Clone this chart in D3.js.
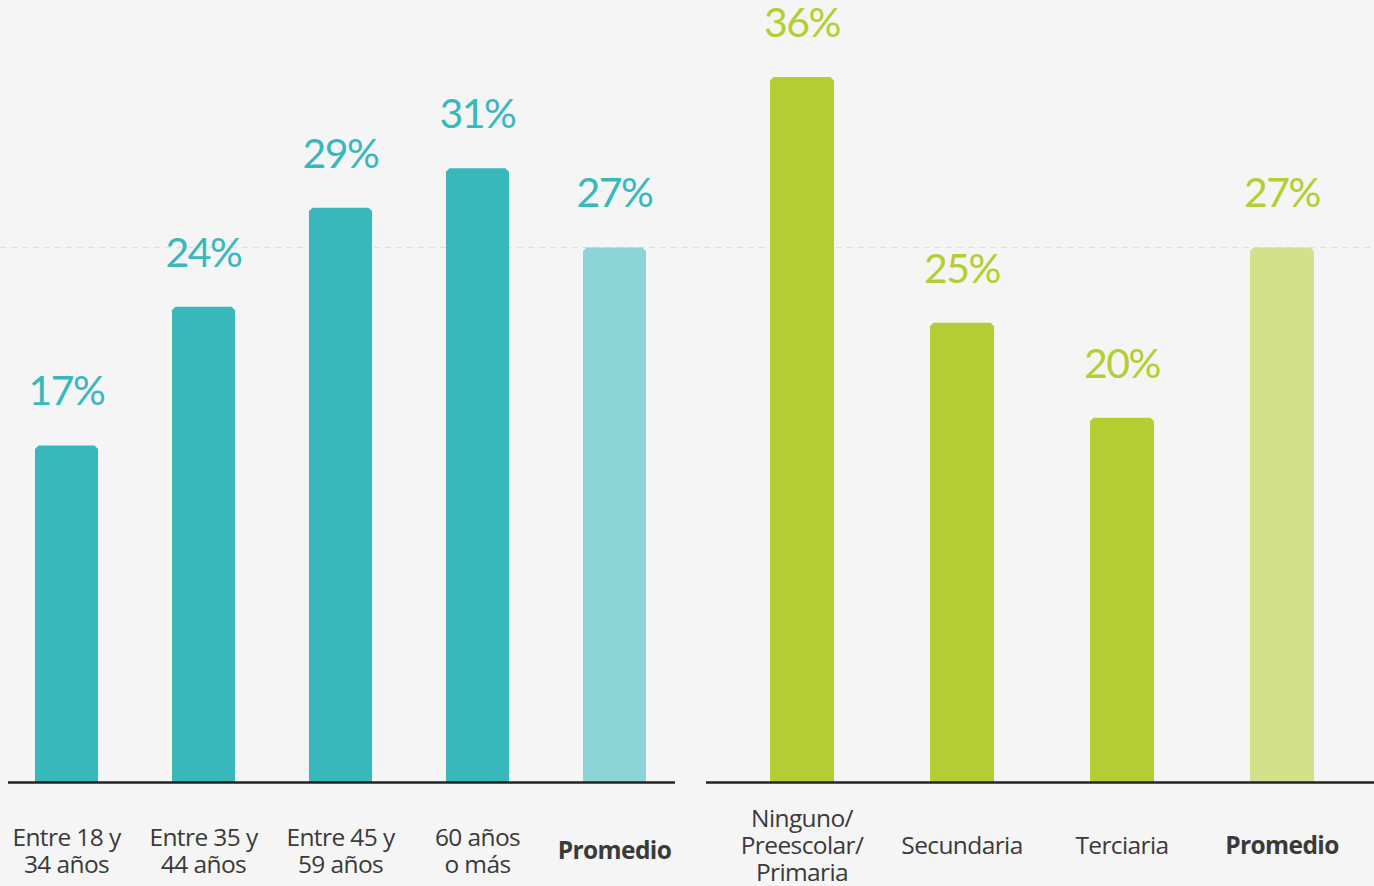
<!DOCTYPE html>
<html>
<head>
<meta charset="utf-8">
<script src="https://cdn.jsdelivr.net/npm/d3@7"></script>
<style>
  html, body { margin: 0; padding: 0; background: #f5f5f5; }
  svg { display: block; }
</style>
</head>
<body>
<svg id="chart" width="1374" height="886"></svg>
<script>
// ---- Data ----
const ageCategories = ["Entre 18 y\n34 años", "Entre 35 y\n44 años", "Entre 45 y\n59 años", "60 años\no más", "Promedio"];
const ageValues = [17, 24, 29, 31, 27];
const ageLabels = ["17%", "24%", "29%", "31%", "27%"];

const eduCategories = ["Ninguno/\nPreescolar/\nPrimaria", "Secundaria", "Terciaria", "Promedio"];
const eduValues = [35.6, 23.2, 18.4, 27];
const eduLabels = ["36%", "25%", "20%", "27%"];

const averageValue = 27;

// ---- Styles ----
const W = 1374, H = 886;
const bg = "#f5f5f5";
const teal = "#39b8bc", tealLight = "#8bd5d8";
const green = "#b4cd32", greenLight = "#d3e28a";
const textColor = "#3a3a3a";

const svg = d3.select("#chart");
svg.append("rect").attr("width", W).attr("height", H).attr("fill", bg);

const baseY = 782;
const y = d3.scaleLinear().domain([0, 40]).range([baseY, baseY - 40 * 19.8]);

// dashed average line behind bars
svg.append("line")
  .attr("x1", 0).attr("x2", W)
  .attr("y1", y(averageValue)).attr("y2", y(averageValue))
  .attr("stroke", "#dcdcdc").attr("stroke-width", 1)
  .attr("stroke-dasharray", "6,5");

function chamfer(x0, w, yt, yb, c) {
  return `M${x0},${yb}L${x0},${yt + c}L${x0 + c},${yt}L${x0 + w - c},${yt}L${x0 + w},${yt + c}L${x0 + w},${yb}Z`;
}

function panel(cats, vals, labels, range, padIn, padOut, lineX, colMain, colAvg, labelCy) {
  const x = d3.scaleBand().domain(cats).range(range).paddingInner(padIn).paddingOuter(padOut);
  const g = svg.append("g");
  const data = cats.map((c, i) => ({ c, v: vals[i], l: labels[i], avg: i === cats.length - 1 }));

  g.selectAll("path.bar").data(data).join("path")
    .attr("class", "bar")
    .attr("d", d => chamfer(x(d.c), x.bandwidth(), y(d.v), y(0), 3.5))
    .attr("fill", d => d.avg ? colAvg : colMain);

  g.selectAll("text.val").data(data).join("text")
    .attr("class", "val")
    .attr("x", d => x(d.c) + x.bandwidth() / 2)
    .attr("y", d => y(d.v) - 40)
    .attr("text-anchor", "middle")
    .attr("font-family", "Lato, 'Open Sans', sans-serif")
    .attr("font-size", 41)
    .attr("letter-spacing", "-1.5")
    .attr("fill", colMain)
    .text(d => d.l);

  g.append("line")
    .attr("x1", lineX[0]).attr("x2", lineX[1])
    .attr("y1", y(0) + 0.5).attr("y2", y(0) + 0.5)
    .attr("stroke", "#222").attr("stroke-width", 2.5);

  const lh = 27;
  const cat = g.selectAll("text.cat").data(data).join("text")
    .attr("class", "cat")
    .attr("text-anchor", "middle")
    .attr("font-family", "'Open Sans', 'Noto Sans', sans-serif")
    .attr("font-size", 24.5)
    .attr("letter-spacing", "-0.6")
    .attr("font-weight", d => d.avg ? 700 : 400)
    .attr("fill", textColor);
  cat.each(function(d) {
    const lines = d.c.split("\n");
    const first = labelCy - (lines.length - 1) * lh / 2 + 8;
    d3.select(this).selectAll("tspan").data(lines).join("tspan")
      .attr("x", x(d.c) + x.bandwidth() / 2)
      .attr("y", (l, i) => first + i * lh)
      .text(l => l);
  });
}

panel(ageCategories, ageValues, ageLabels, [-2, 683], 0.54, 0.27, [8, 675], teal, tealLight, 851);
panel(eduCategories, eduValues, eduLabels, [722, 1362], 0.6, 0.3, [706, 1374], green, greenLight, 846);
</script>
</body>
</html>
